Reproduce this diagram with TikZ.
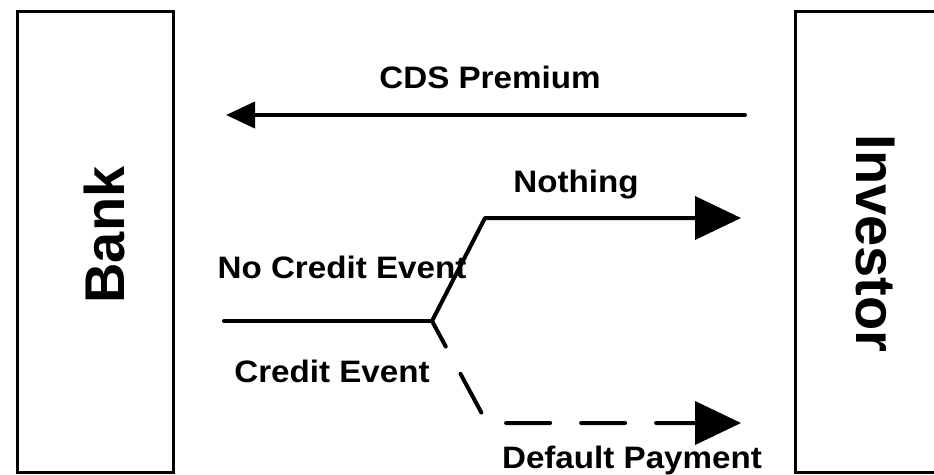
\documentclass[tikz,border=0pt]{standalone}
\usepackage{fontspec}
\setmainfont{Liberation Sans}
\newfontfamily\labfont[FakeStretch=1.07]{Liberation Sans}
\usetikzlibrary{arrows.meta}
\begin{document}
\begin{tikzpicture}[x=1pt,y=-1pt,
  party/.style={draw, line width=3pt, inner sep=0pt},
  partylabel/.style={font=\bfseries\fontsize{56}{60}\selectfont, inner sep=0pt},
  lab/.style={font=\labfont\bfseries\fontsize{31}{36}\selectfont, anchor=base, inner sep=0pt},
  flow/.style={line width=4pt, line cap=round, line join=round},
  bighead/.style={-{Triangle[length=46pt,width=43pt]}},
  smallhead/.style={-{Triangle[length=29pt,width=26pt]}},
  dashflow/.style={dash pattern=on 44pt off 31pt, dash phase=15pt}]
\useasboundingbox (0,0) rectangle (934,474);
\clip (0,0) rectangle (934,474);
% boxes
\node[party, minimum width=156pt, minimum height=461pt] (bank) at (95,241.5) {};
\node[party, minimum width=205pt, minimum height=461pt] (investor) at (897.5,241.5) {};
\node[partylabel, rotate=90] (banklabel) at (104,235) {Bank};
\node[partylabel, rotate=-90] (investorlabel) at (875,243.5) {Investor};
% coordinates
\coordinate (cdsS) at (745,115);
\coordinate (cdsE) at (226,115);
\coordinate (start) at (224,321);
\coordinate (fork) at (432,321);
\coordinate (upbend) at (485,218);
\coordinate (nothingE) at (741,218);
\coordinate (downbend) at (487,423);
\coordinate (defE) at (741,423);
% connectors
\draw[flow, smallhead] (cdsS) -- (cdsE);
\draw[flow] (start) -- (fork);
\draw[flow, bighead] (fork) -- (upbend) -- (nothingE);
\draw[flow, dashflow, bighead] (fork) -- (downbend) -- (defE);
% labels
\node[lab] (cdsl) at (490,88) {CDS Premium};
\node[lab] (nothingl) at (576,192) {Nothing};
\node[lab] (nocel) at (342,278) {No Credit Event};
\node[lab] (cel) at (332,382) {Credit Event};
\node[lab] (defl) at (632,468) {Default Payment};
\end{tikzpicture}
\end{document}
